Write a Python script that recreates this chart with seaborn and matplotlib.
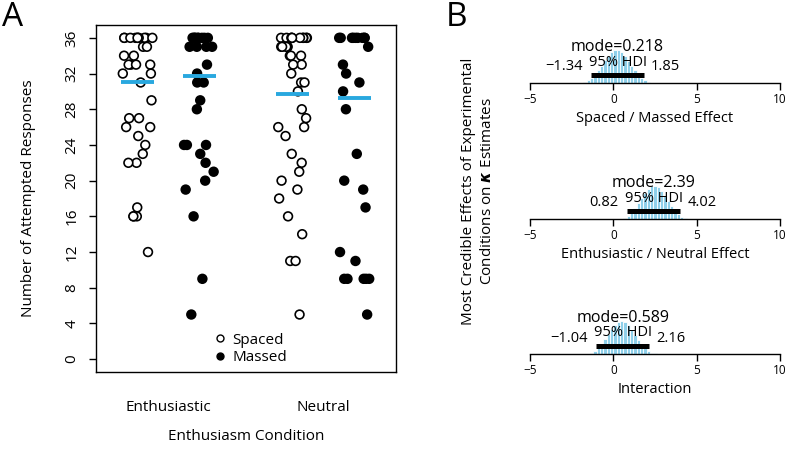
import numpy as np
import pandas as pd
import matplotlib
matplotlib.use('Agg')
import matplotlib.pyplot as plt
from matplotlib.lines import Line2D
import seaborn as sns

# ---- Panel A data: attempted responses per participant
conditions = ['Enthusiastic', 'Neutral']
spacing_levels = ['Spaced', 'Massed']

enth_spaced = [36, 36, 36, 36, 36, 36, 36, 36, 36, 36, 35, 35, 34, 34, 33, 33, 33, 33,
               32, 32, 31, 29, 27, 27, 26, 26, 25, 24, 23, 22, 22, 17, 16, 16, 16, 12]
enth_massed = [36, 36, 36, 36, 36, 36, 36, 36, 36, 35, 35, 35, 35, 33, 32, 31, 31, 29,
               28, 24, 24, 24, 23, 22, 21, 20, 19, 16, 9, 5]
neut_spaced = [36, 36, 36, 36, 36, 36, 36, 36, 36, 36, 35, 35, 35, 35, 35, 34, 34, 34,
               33, 33, 32, 31, 31, 30, 28, 27, 26, 26, 25, 23, 22, 21, 20, 19, 18, 16,
               14, 11, 11, 5]
neut_massed = [36, 36, 36, 36, 36, 36, 36, 36, 36, 35, 33, 32, 31, 30, 28, 23, 20, 19,
               17, 12, 11, 9, 9, 9, 9, 9, 5]

# group means shown as blue bars (Enth-Spaced, Enth-Massed, Neut-Spaced, Neut-Massed)
group_means = [31.1, 31.7, 29.7, 29.3]

# ---- Panel B data: posterior summaries
effect_names = ['Spaced / Massed Effect', 'Enthusiastic / Neutral Effect', 'Interaction']
modes = [0.218, 2.39, 0.589]
hdi_low = [-1.34, 0.82, -1.04]
hdi_high = [1.85, 4.02, 2.16]
hist_start = [-1.8, 0.6, -1.4]
bin_width = 0.2
hist_spaced = [0.03, 0.08, 0.15, 0.25, 0.38, 0.52, 0.68, 0.82, 0.93, 1.0,
               0.98, 0.92, 0.80, 0.66, 0.52, 0.38, 0.26, 0.16, 0.09, 0.04]
hist_enth = [0.04, 0.10, 0.20, 0.33, 0.48, 0.63, 0.78, 0.90, 0.98, 1.0,
             0.95, 0.85, 0.70, 0.55, 0.40, 0.26, 0.15, 0.07, 0.03]
hist_inter = [0.03, 0.08, 0.17, 0.30, 0.45, 0.60, 0.75, 0.88, 0.97, 1.0,
              0.96, 0.86, 0.72, 0.57, 0.42, 0.28, 0.17, 0.09, 0.04, 0.02]
hist_heights = [hist_spaced, hist_enth, hist_inter]

sns.set_style('white')
plt.rcParams['font.family'] = ['Open Sans', 'DejaVu Sans']
plt.rcParams['mathtext.fontset'] = 'dejavusans'
plt.rcParams['text.color'] = 'black'
plt.rcParams['axes.labelcolor'] = 'black'
plt.rcParams['xtick.color'] = 'black'
plt.rcParams['ytick.color'] = 'black'

rows = []
for cond, sp, vals in [('Enthusiastic', 'Spaced', enth_spaced), ('Enthusiastic', 'Massed', enth_massed),
                       ('Neutral', 'Spaced', neut_spaced), ('Neutral', 'Massed', neut_massed)]:
    for v in vals:
        rows.append((cond, sp, v))
df = pd.DataFrame(rows, columns=['condition', 'spacing', 'responses'])

W, H = 787, 451
fig = plt.figure(figsize=(W / 100, H / 100), dpi=100)

# ---- Panel A
np.random.seed(7)
axA = fig.add_axes([96 / W, 1 - 372 / H, 300 / W, 347 / H])
sns.stripplot(data=df, x='condition', y='responses', hue='spacing', order=conditions,
              hue_order=spacing_levels, dodge=True, jitter=0.2,
              palette={'Spaced': 'white', 'Massed': 'black'}, edgecolor='black',
              linewidth=1.2, size=6.3, legend=False, ax=axA)

k = 0
for i, cond in enumerate(conditions):
    for j, sp in enumerate(spacing_levels):
        pos = i - 0.2 if sp == 'Spaced' else i + 0.2
        axA.hlines(group_means[k], pos - 0.107, pos + 0.107, color='#29a8df', lw=2.8, zorder=5)
        k += 1

axA.set_xlim(-0.468, 1.468)
axA.set_ylim(-1.44, 37.44)
axA.set_yticks(range(0, 37, 4))
axA.set_yticklabels([str(t) for t in range(0, 37, 4)], rotation=90, va='center')
axA.tick_params(axis='y', direction='out', length=5, width=1, pad=7, labelsize=11, left=True)
axA.tick_params(axis='x', length=0, pad=20, labelsize=11)
for s in axA.spines.values():
    s.set_color('black')
    s.set_linewidth(1)
axA.set_ylabel('Number of Attempted Responses', fontsize=11)
axA.yaxis.set_label_coords(-0.2, 0.5)
axA.set_xlabel('Enthusiasm Condition', fontsize=11)
axA.xaxis.set_label_coords(0.5, -0.165)

handles = [Line2D([], [], marker='o', ls='', mfc='white', mec='black', ms=5, mew=1),
           Line2D([], [], marker='o', ls='', mfc='black', mec='black', ms=5, mew=1)]
axA.legend(handles, spacing_levels, loc='lower center', bbox_to_anchor=(0.51, -0.015),
           frameon=False, fontsize=11, handletextpad=0.2, handlelength=1.2,
           labelspacing=0.15, borderpad=0.3)

fig.text(0.002, 0.998, 'A', fontsize=24, ha='left', va='top')

# ---- Panel B
axis_rows = [83, 219, 354]
for k in range(3):
    ax = fig.add_axes([530 / W, 1 - axis_rows[k] / H, 250 / W, 50 / H])
    heights = hist_heights[k]
    lo = hist_start[k]
    hi = lo + bin_width * len(heights)
    centers = [lo + bin_width * (i + 0.5) for i in range(len(heights))]
    hdf = pd.DataFrame({'value': centers, 'density': heights})
    sns.histplot(data=hdf, x='value', weights='density', binwidth=bin_width, binrange=(lo, hi),
                 color='#8fd0ea', edgecolor='white', linewidth=0.6, alpha=1, ax=ax)
    peak = max(heights)
    ax.plot([hdi_low[k], hdi_high[k]], [0.24 * peak, 0.24 * peak], color='black',
            lw=3.6, solid_capstyle='butt')
    ax.text(modes[k], 1.08 * peak, 'mode=' + str(modes[k]), ha='center', va='center', fontsize=11.5)
    ax.text((hdi_low[k] + hdi_high[k]) / 2, 0.63 * peak, '95% HDI', ha='center', va='center', fontsize=10.5)
    ax.annotate(f'{hdi_low[k]:g}'.replace('-', '\u2212'), xy=(hdi_low[k], 0.48 * peak), xytext=(-6, 0),
                textcoords='offset points', ha='right', va='center', fontsize=10.5)
    ax.annotate(f'{hdi_high[k]:g}', xy=(hdi_high[k], 0.48 * peak), xytext=(5, 0),
                textcoords='offset points', ha='left', va='center', fontsize=10.5)
    ax.set_xlim(-5, 10)
    ax.set_ylim(0, 1.5)
    ax.set_yticks([])
    ax.set_ylabel('')
    ax.set_xticks([-5, 0, 5, 10])
    ax.set_xticklabels(['\u22125', '0', '5', '10'])
    ax.tick_params(axis='x', direction='out', length=5, width=1, pad=2, labelsize=8.5, bottom=True)
    for side in ['left', 'top', 'right']:
        ax.spines[side].set_visible(False)
    ax.spines['bottom'].set_color('black')
    ax.spines['bottom'].set_linewidth(1)
    ax.spines['bottom'].set_bounds(-5, 10)
    ax.set_xlabel(effect_names[k], fontsize=10.5)
    ax.xaxis.set_label_coords(0.5, -0.56)
    ax.patch.set_alpha(0)

fig.text(446 / W, 0.998, 'B', fontsize=24, ha='left', va='top')
fig.text(478 / W, 1 - 191 / H,
         'Most Credible Effects of Experimental\nConditions on $\\boldsymbol{\\kappa}$ Estimates',
         rotation=90, ha='center', va='center', multialignment='center', fontsize=11,
         linespacing=1.35)

fig.savefig('out.png', dpi=100)
